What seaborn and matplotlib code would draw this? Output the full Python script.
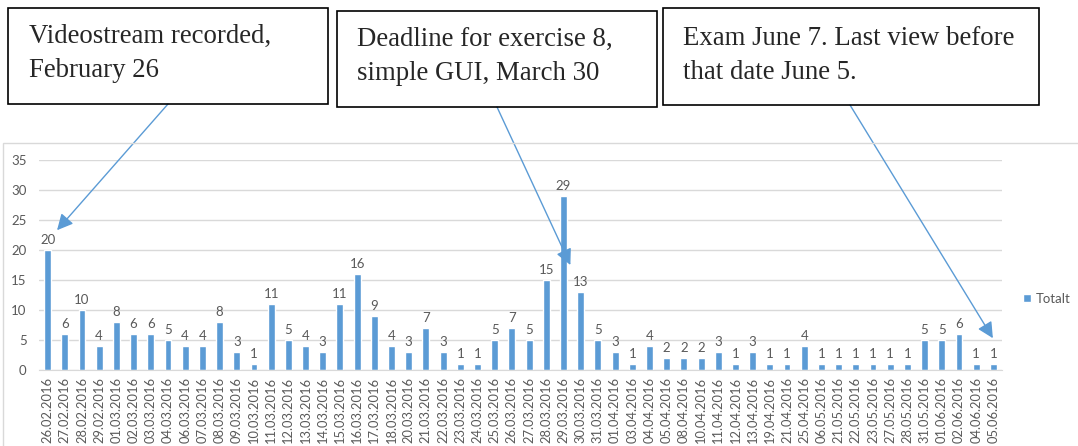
import numpy as np
import pandas as pd
import seaborn as sns
import matplotlib.pyplot as plt
from matplotlib.patches import Rectangle

# views per day of the videostream
dates = ['26.02.2016', '27.02.2016', '28.02.2016', '29.02.2016', '01.03.2016', '02.03.2016',
         '03.03.2016', '04.03.2016', '06.03.2016', '07.03.2016', '08.03.2016', '09.03.2016',
         '10.03.2016', '11.03.2016', '12.03.2016', '13.03.2016', '14.03.2016', '15.03.2016',
         '16.03.2016', '17.03.2016', '18.03.2016', '20.03.2016', '21.03.2016', '22.03.2016',
         '23.03.2016', '24.03.2016', '25.03.2016', '26.03.2016', '27.03.2016', '28.03.2016',
         '29.03.2016', '30.03.2016', '31.03.2016', '01.04.2016', '03.04.2016', '04.04.2016',
         '05.04.2016', '08.04.2016', '10.04.2016', '11.04.2016', '12.04.2016', '13.04.2016',
         '19.04.2016', '21.04.2016', '25.04.2016', '06.05.2016', '21.05.2016', '22.05.2016',
         '23.05.2016', '27.05.2016', '28.05.2016', '31.05.2016', '01.06.2016', '02.06.2016',
         '04.06.2016', '05.06.2016']
views = [20, 6, 10, 4, 8, 6, 6, 5, 4, 4, 8, 3, 1, 11, 5, 4, 3, 11, 16, 9, 4, 3, 7, 3,
         1, 1, 5, 7, 5, 15, 29, 13, 5, 3, 1, 4, 2, 2, 2, 3, 1, 3, 1, 1, 4, 1, 1, 1,
         1, 1, 1, 5, 5, 6, 1, 1]

notes = ['Videostream recorded,\nFebruary 26',
         'Deadline for exercise 8,\nsimple GUI, March 30',
         'Exam June 7. Last view before\nthat date June 5.']

df = pd.DataFrame({'date': dates, 'views': views})

W, H = 1078, 446
blue = '#5B9BD5'
grey = '#595959'


def fx(x):
    return x / W


def fy(y):
    return 1 - y / H


sns.set_style('white')
plt.rcParams['font.family'] = ['Lato', 'DejaVu Sans']

fig = plt.figure(figsize=(W / 100, H / 100), dpi=100)
ax = fig.add_axes([fx(39), fy(370), fx(1002) - fx(39), fy(160) - fy(370)])

# outer chart frame
fig.add_artist(Rectangle((fx(3), fy(460)), fx(1090) - fx(3), fy(143) - fy(460),
                         transform=fig.transFigure, fill=False, edgecolor='#D9D9D9', lw=1))

sns.barplot(data=df, x='date', y='views', color=blue, saturation=1, width=0.4,
            label='Totalt', ax=ax)

ax.set_ylim(0, 35)
ax.set_yticks(range(0, 36, 5))
ax.yaxis.grid(True, color='#D9D9D9', lw=1)
ax.set_axisbelow(True)
ax.set_xlim(-0.5, len(dates) - 0.5)
for s in ['top', 'right', 'left']:
    ax.spines[s].set_visible(False)
ax.spines['bottom'].set_color('#D9D9D9')
ax.tick_params(axis='y', length=0, pad=9, labelsize=9.5, labelcolor=grey)
ax.tick_params(axis='x', length=0, pad=5, labelsize=9.3, labelcolor=grey, rotation=90)
ax.set_xlabel('')
ax.set_ylabel('')

ax.bar_label(ax.containers[0], padding=3, fontsize=9.5, color=grey)

aw = fx(1002) - fx(39)
ax.legend(loc='center left', bbox_to_anchor=((fx(1011) - fx(39)) / aw, 0.34),
          frameon=False, fontsize=9.5, handlelength=0.6, handleheight=0.6, handletextpad=0.4,
          labelcolor=grey)

# annotation boxes
boxes = [(8, 8, 328, 104), (337, 11, 657, 107), (663, 8, 1039, 105)]
text_pos = [(29, 24), (357, 27), (683, 26)]
starts = [(168, 104), (497, 107), (850, 105)]
tips = [(0.55, 23.3), (30.4, 17.5), (54.97, 5.3)]

for note, (x0, y0, x1, y1), (tx, ty), (sx, sy), (ix, iy) in zip(notes, boxes, text_pos,
                                                                starts, tips):
    fig.add_artist(Rectangle((fx(x0), fy(y1)), fx(x1) - fx(x0), fy(y0) - fy(y1),
                             transform=fig.transFigure, fill=False, edgecolor='black', lw=1.2))
    fig.text(fx(tx), fy(ty), note, va='top', ha='left', family='Liberation Serif',
             fontsize=19.3, linespacing=1.45)
    ax.annotate('', xy=(ix, iy), xycoords='data', xytext=(fx(sx), fy(sy)),
                textcoords='figure fraction', annotation_clip=False,
                arrowprops=dict(arrowstyle='-|>', color=blue, lw=1, mutation_scale=24,
                                shrinkA=0, shrinkB=0))

fig.savefig('out.png', dpi=100)
